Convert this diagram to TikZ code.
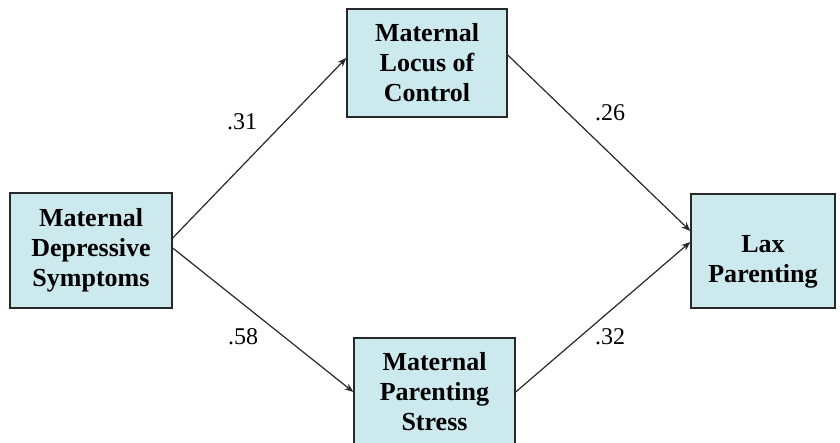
\documentclass[tikz,border=0pt]{standalone}
\usepackage{fontspec}
\setmainfont{Liberation Serif}
\usetikzlibrary{arrows.meta}
\definecolor{boxfill}{RGB}{204,233,238}
\definecolor{edgecol}{RGB}{40,40,40}
\tikzset{
  varbox/.style={draw=edgecol, line width=1.4pt, fill=boxfill, align=center,
    font=\fontsize{26}{30}\selectfont\bfseries, inner sep=0pt},
  arr/.style={draw=edgecol, line width=1.2pt, -{Stealth[length=9pt,width=7pt]}},
  coef/.style={font=\fontsize{24}{28}\selectfont, inner sep=0pt}
}
\begin{document}
\begin{tikzpicture}[x=1pt,y=1pt]
\clip (0,0) rectangle (840,443);
\useasboundingbox (0,0) rectangle (840,443);
\node[varbox, minimum width=162pt, minimum height=115pt] (L) at (91,192.5) {Maternal\\Depressive\\Symptoms};
\node[varbox, minimum width=160pt, minimum height=108pt] (T) at (427,380) {Maternal\\Locus of\\Control};
\node[varbox, minimum width=161pt, minimum height=108pt] (B) at (434.5,51) {Maternal\\Parenting\\Stress};
\node[varbox, minimum width=144pt, minimum height=114pt] (R) at (763,192) {\raisebox{-16.5pt}[0pt][0pt]{\begin{tabular}{@{}c@{}}Lax\\Parenting\end{tabular}}};
\draw[arr] ([yshift=12.5pt]L.east) -- ([yshift=5pt]T.west);
\draw[arr] ([yshift=8pt]T.east) -- ([yshift=20pt]R.west);
\draw[arr] ([yshift=2.5pt]L.east) -- (B.west);
\draw[arr] (B.east) -- ([yshift=9pt]R.west);
\node[coef] (c1) at (242,321) {.31};
\node[coef] (c2) at (610,330) {.26};
\node[coef] (c3) at (243,106) {.58};
\node[coef] (c4) at (610,106) {.32};
\end{tikzpicture}
\end{document}
